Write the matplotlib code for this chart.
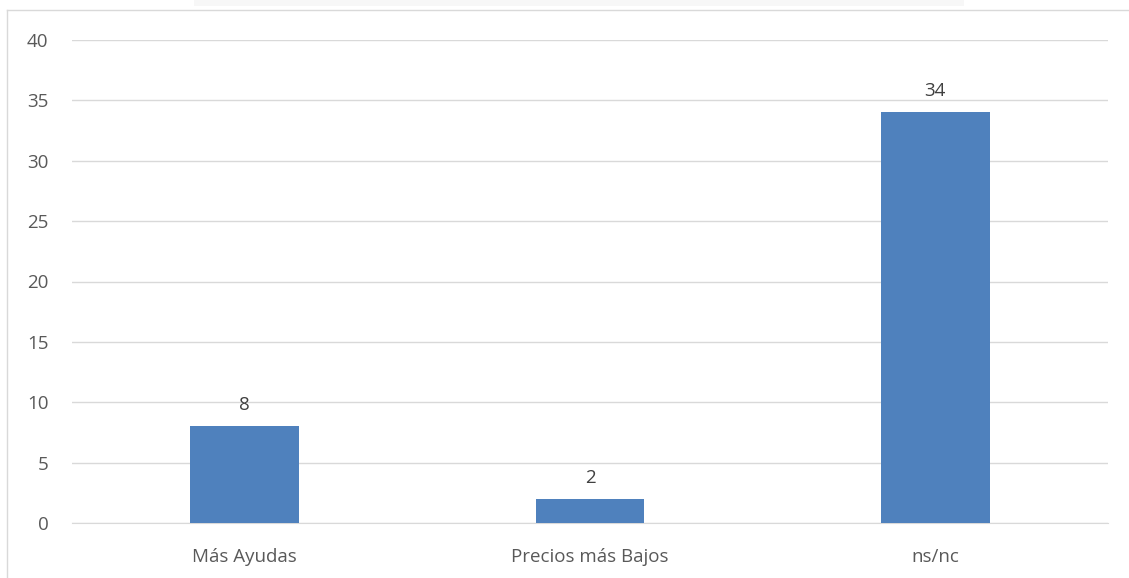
import matplotlib.pyplot as plt
from matplotlib.patches import Rectangle
from matplotlib.lines import Line2D

categorias = ["Más Ayudas", "Precios más Bajos", "ns/nc"]
valores = [8, 2, 34]
yticks = [0, 5, 10, 15, 20, 25, 30, 35, 40]

W, H = 1129, 578
fig = plt.figure(figsize=(W / 100, H / 100), dpi=100)
plt.rcParams['font.family'] = ['Open Sans', 'DejaVu Sans']

# marco del grafico y sombra superior
fig.patches.append(Rectangle((194 / W, 1 - 6 / H), 770 / W, 6 / H,
                             transform=fig.transFigure, color='#F7F7F7', lw=0))
fig.lines.append(Line2D([7 / W, 7 / W], [0, 1 - 10 / H], transform=fig.transFigure,
                        color='#D9D9D9', lw=1))
fig.lines.append(Line2D([7 / W, 1], [1 - 10 / H, 1 - 10 / H], transform=fig.transFigure,
                        color='#D9D9D9', lw=1))

ax = fig.add_axes([72 / W, 1 - 523 / H, (1108 - 72) / W, (523 - 40) / H])
x = range(len(categorias))
bars = ax.bar(x, valores, width=0.315, color='#4F81BD', zorder=3)
for b, v in zip(bars, valores):
    ax.text(b.get_x() + b.get_width() / 2, v + 1.0, str(v), ha='center', va='bottom',
            fontsize=13.5, color='#404040')

ax.set_xlim(-0.5, 2.5)
ax.set_ylim(0, 40)
ax.set_yticks(yticks)
ax.set_xticks(list(x))
ax.set_xticklabels(categorias)
ax.yaxis.grid(True, color='#D9D9D9', lw=1, zorder=0)
for s in ax.spines.values():
    s.set_visible(False)
ax.spines['bottom'].set_visible(True)
ax.spines['bottom'].set_color('#D9D9D9')
ax.tick_params(axis='both', length=0, labelsize=13.5, colors='#595959')
ax.tick_params(axis='y', pad=17)
ax.tick_params(axis='x', pad=18)

fig.savefig('out.png', dpi=100)
